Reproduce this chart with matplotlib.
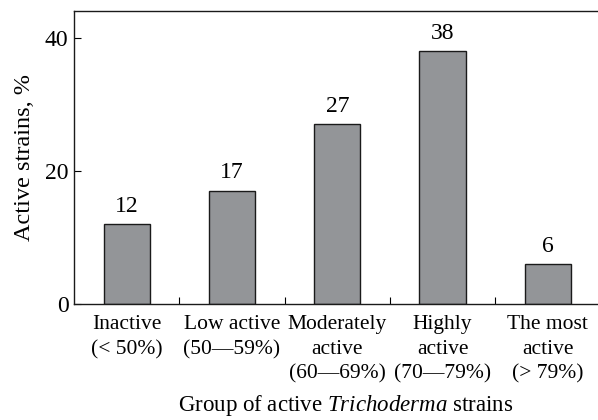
import matplotlib.pyplot as plt

groups = ['Inactive\n(< 50%)', 'Low active\n(50—59%)', 'Moderately\nactive\n(60—69%)',
          'Highly\nactive\n(70—79%)', 'The most\nactive\n(> 79%)']
values = [12, 17, 27, 38, 6]
y_ticks = [0, 20, 40]

plt.rcParams['font.family'] = ['Liberation Serif', 'DejaVu Serif']
plt.rcParams['mathtext.fontset'] = 'custom'
plt.rcParams['mathtext.rm'] = 'Liberation Serif'
plt.rcParams['mathtext.it'] = 'Liberation Serif:italic'

fig = plt.figure(figsize=(5.98, 4.2), dpi=100)
ax = fig.add_axes([0.124, 0.2762, 0.88, 0.6976])

x = list(range(len(values)))
ax.bar(x, values, width=0.44, color='#939598', edgecolor='#1a1a1a', linewidth=1.0)
for xi, v in zip(x, values):
    ax.text(xi, v + 1.1, str(v), ha='center', va='bottom', fontsize=17)

ax.set_xlim(-0.5, 4.5)
ax.set_ylim(0, 44)
ax.set_yticks(y_ticks)
ax.tick_params(axis='y', direction='in', length=5, width=0.8, labelsize=17, pad=4)
ax.set_xticks([0.5, 1.5, 2.5, 3.5])
ax.set_xticklabels([])
ax.tick_params(axis='x', direction='in', length=5, width=0.8)
for s in ['left', 'bottom', 'top']:
    ax.spines[s].set_linewidth(1.0)
    ax.spines[s].set_color('#1a1a1a')
ax.spines['right'].set_visible(False)

for xi, g in zip(x, groups):
    ax.text(xi, -1.7, g, ha='center', va='top', fontsize=15.5, linespacing=1.4)

ax.set_ylabel('Active strains, %', fontsize=17.5, labelpad=7)
fig.text(346 / 598, 1 - 406 / 420, 'Group of active $\\it{Trichoderma}$ strains',
         ha='center', va='center', fontsize=16.5)

fig.savefig('out.png', dpi=100)
